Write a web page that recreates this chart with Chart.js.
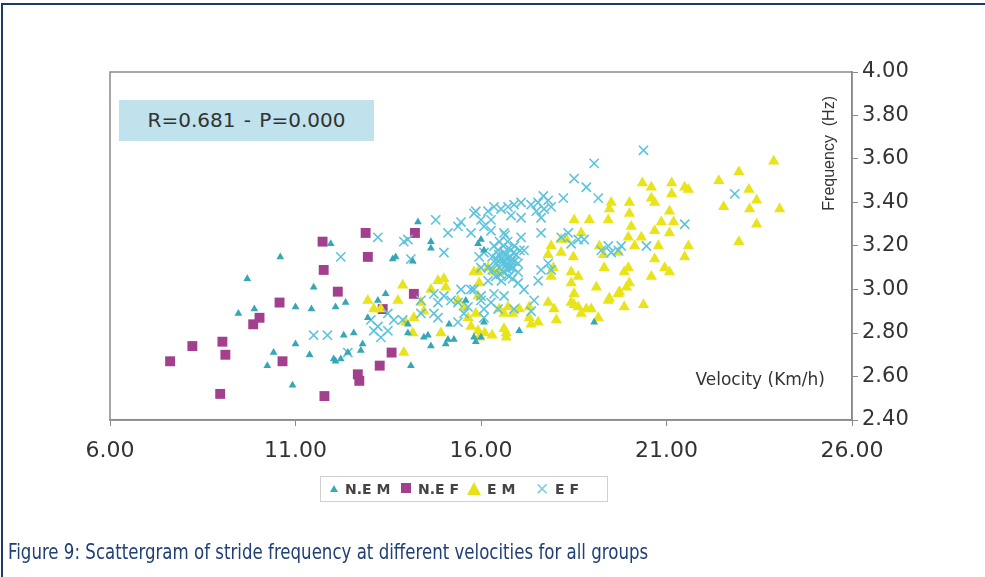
<!DOCTYPE html>
<html lang="en">
<head>
  <meta charset="UTF-8">
  <title>Figure 9: Scattergram of stride frequency</title>
  <script src="https://cdn.jsdelivr.net/npm/chart.js"></script>
  <style>
    html, body { margin: 0; padding: 0; background: #fff; }
    #page { position: relative; width: 985px; height: 577px; overflow: hidden; }
    #frame-top { position: absolute; left: 2px; top: 3px; width: 983px; height: 2px; background: #1c3b6c; }
    #frame-left { position: absolute; left: 1px; top: 3px; width: 2px; height: 574px; background: #1c3b6c; }
    #chart { position: absolute; left: 0; top: 0; }
    #stats {
      position: absolute; left: 119px; top: 100px; width: 255px; height: 41px;
      background: #bfe2ec; color: #333; font: 20px "DejaVu Sans", sans-serif;
      line-height: 41px; text-align: center; word-spacing: 2px;
    }
    #legend {
      position: absolute; left: 320px; top: 476px; width: 286px; height: 24px;
      border: 1px solid #cfcfcf; font: bold 14px "DejaVu Sans", sans-serif; color: #444;
      line-height: 24px; white-space: nowrap;
    }
    #legend span { position: absolute; top: 0; }
    .tri { width: 0; height: 0; border-left: 4px solid transparent; border-right: 4px solid transparent; display: inline-block; }
    #caption {
      position: absolute; left: 8px; top: 539px; color: #1f3f75;
      font: 22px "Liberation Sans Narrow", "DejaVu Sans Condensed", sans-serif;
      white-space: nowrap; transform: scaleX(0.84); transform-origin: left top;
    }
  </style>
</head>
<body>
  <div id="page">
    <canvas id="chart" width="985" height="577"></canvas>
    <div id="frame-top"></div>
    <div id="frame-left"></div>
    <div id="stats">R=0.681 - P=0.000</div>
    <div id="legend">
      <span style="left:9px;top:8px;" class="tri" id="lg1"></span>
      <span style="left:24px;">N.E M</span>
      <span style="left:80px;top:6px;width:10px;height:10px;background:#a3408e;"></span>
      <span style="left:97px;">N.E F</span>
      <span style="left:146px;top:5px;" class="tri" id="lg3"></span>
      <span style="left:166px;">E M</span>
      <span style="left:214px;color:#7fd3e3;font-weight:normal;font-size:17px;">✕</span>
      <span style="left:234px;">E F</span>
    </div>
    <div id="caption">Figure 9: Scattergram of stride frequency at different velocities for all groups</div>
  </div>

  <script>
    // legend triangles
    document.getElementById('lg1').style.borderBottom = '7px solid #3aa9b8';
    const lg3 = document.getElementById('lg3');
    lg3.style.borderLeft = '7px solid transparent';
    lg3.style.borderRight = '7px solid transparent';
    lg3.style.borderBottom = '13px solid #e6e21a';

    // axis ticks
    const xTicks = [6, 11, 16, 21, 26];
    const yTicks = [2.4, 2.6, 2.8, 3.0, 3.2, 3.4, 3.6, 3.8, 4.0];

    // N.E M  (velocity km/h, frequency Hz)
    const nemX = [10.59, 9.70, 11.49, 9.46, 9.89, 11.00, 11.43, 12.08, 12.35, 11.00, 11.38, 10.24, 10.41, 10.92,
                  12.08, 12.22, 12.41, 12.76, 12.81, 14.11, 13.62, 14.16, 14.30, 14.65, 11.95, 15.11, 15.27, 14.65,
                  14.46, 12.30, 12.57, 12.95, 13.22, 14.03, 19.05, 17.03, 16.00, 16.00, 13.43, 13.70, 14.65, 15.05,
                  15.81, 14.57, 14.03, 15.14, 12.03, 15.92, 16.08, 15.59, 16.08, 15.86];
    const nemY = [3.15, 3.05, 3.01, 2.89, 2.91, 2.92, 2.91, 2.92, 2.94, 2.75, 2.70, 2.65, 2.71, 2.56,
                  2.67, 2.68, 2.71, 2.72, 2.75, 2.65, 3.14, 3.13, 3.31, 3.19, 3.21, 2.77, 2.77, 2.74,
                  2.78, 2.79, 2.80, 2.87, 2.95, 2.80, 2.85, 2.81, 2.78, 3.23, 2.98, 3.15, 3.22, 2.75,
                  2.78, 2.79, 2.84, 2.84, 2.68, 3.21, 3.18, 2.95, 2.85, 2.76];

    // N.E F
    const nefX = [7.62, 8.22, 9.03, 9.11, 8.97, 9.86, 10.03, 10.57, 10.65, 11.73, 11.76, 12.14, 12.89, 12.95,
                  11.78, 12.68, 12.72, 13.27, 13.59, 13.35, 14.19, 14.22];
    const nefY = [2.67, 2.74, 2.76, 2.70, 2.52, 2.84, 2.87, 2.94, 2.67, 3.22, 3.09, 2.99, 3.26, 3.15,
                  2.51, 2.61, 2.58, 2.65, 2.71, 2.91, 2.98, 3.26];

    // E M
    const emX = [12.95, 13.11, 13.30, 13.89, 13.76, 13.97, 14.16, 13.92, 14.38, 14.46, 14.65, 14.84, 15.00, 15.05,
                 15.38, 15.54, 15.65, 15.73, 15.92, 14.92, 15.81, 14.19, 15.95, 15.92, 15.86, 16.49, 16.62, 16.73,
                 16.86, 17.03, 16.62, 16.68, 17.30, 17.35, 17.30, 17.97, 18.03, 17.81, 17.89, 17.95, 18.16, 18.30,
                 18.16, 18.49, 18.51, 18.62, 18.43, 18.51, 18.62, 18.84, 18.70, 18.92, 19.19, 19.30, 19.32, 19.43,
                 19.46, 19.51, 19.11, 19.43, 19.70, 19.86, 20.00, 20.00, 20.05, 19.97, 19.86, 20.00, 19.70, 18.97,
                 19.16, 18.70, 17.89, 18.43, 16.19, 16.35, 16.46, 15.92, 17.54, 17.81, 18.51, 23.89, 22.95, 22.41,
                 23.22, 23.43, 23.24, 22.54, 24.05, 23.43, 22.95, 20.59, 20.59, 20.68, 21.14, 21.14, 21.49, 21.59,
                 21.08, 21.19, 21.08, 20.68, 20.86, 21.59, 21.49, 20.78, 20.68, 20.95, 21.08, 20.59, 19.92, 20.38,
                 20.32, 20.14, 19.97, 20.35, 15.95, 16.68, 18.43, 19.46, 19.73, 16.10, 16.30];
    const emY = [2.95, 2.91, 2.91, 3.02, 2.95, 2.85, 2.80, 2.71, 2.94, 2.90, 3.00, 3.04, 3.05, 3.01,
                 2.95, 2.92, 2.87, 2.83, 2.81, 2.80, 3.08, 2.87, 3.03, 2.97, 2.89, 2.91, 2.89, 2.92,
                 2.89, 2.91, 2.82, 2.80, 2.87, 2.84, 2.92, 2.91, 2.86, 3.16, 3.20, 3.10, 3.23, 3.23,
                 3.17, 3.15, 3.32, 3.06, 3.03, 2.98, 2.92, 2.91, 3.26, 3.32, 3.20, 3.16, 3.10, 3.32,
                 3.37, 3.40, 3.01, 2.95, 2.98, 2.92, 3.40, 3.35, 3.29, 3.24, 3.08, 3.03, 3.17, 2.91,
                 2.87, 2.89, 3.06, 3.08, 3.10, 3.08, 3.08, 3.08, 2.85, 2.94, 2.93, 3.59, 3.54, 3.50,
                 3.46, 3.41, 3.37, 3.38, 3.37, 3.30, 3.22, 3.47, 3.42, 3.40, 3.49, 3.44, 3.47, 3.46,
                 3.36, 3.31, 3.26, 3.27, 3.31, 3.20, 3.15, 3.20, 3.14, 3.10, 3.08, 3.06, 3.01, 2.93,
                 3.24, 3.20, 3.10, 3.49, 2.78, 2.78, 2.94, 2.96, 2.99, 2.80, 2.79];

    // E F
    const efX = [13.22, 12.22, 13.92, 14.78, 14.11, 15.11, 15.46, 15.81, 11.49, 11.86, 12.41, 13.03, 13.22, 13.49,
                 13.65, 13.30, 14.73, 15.00, 15.19, 15.46, 15.65, 14.38, 14.73, 14.38, 14.03, 15.00, 15.38, 15.73,
                 16.08, 15.95, 16.19, 14.84, 15.38, 15.73, 15.54, 16.00, 16.08, 13.49, 13.11, 13.89, 15.38, 14.84,
                 19.05, 18.84, 19.16, 18.51, 18.22, 17.81, 17.68, 17.54, 17.35, 17.08, 16.89, 16.73, 16.54, 16.35,
                 16.19, 15.86, 16.00, 16.27, 16.81, 17.08, 17.49, 17.70, 17.62, 17.89, 16.27, 16.62, 17.08, 17.62,
                 17.16, 16.08, 16.00, 16.19, 16.35, 16.62, 17.00, 17.16, 17.54, 17.62, 17.43, 17.35, 16.89, 16.46,
                 16.27, 16.00, 15.81, 16.08, 18.16, 18.35, 18.43, 18.62, 18.78, 19.24, 19.43, 19.51, 19.70, 17.81,
                 17.89, 20.38, 22.84, 21.49, 20.46, 19.78,
                 16.30, 16.40, 16.45, 16.50, 16.55, 16.60, 16.60, 16.65, 16.70, 16.72, 16.75, 16.80, 16.80, 16.85,
                 16.90, 16.90, 16.95, 17.00, 17.00, 16.50, 16.40, 16.30, 16.55, 16.65, 16.85, 17.05, 16.35, 16.70,
                 16.60, 16.78, 16.48, 16.58, 16.68, 16.75, 16.88, 16.42, 16.62, 16.82, 16.52, 16.72];
    const efY = [3.24, 3.15, 3.22, 3.32, 3.14, 3.26, 3.31, 3.35, 2.79, 2.79, 2.71, 2.86, 2.83, 2.89,
                 2.86, 2.78, 2.98, 2.97, 2.95, 3.00, 2.92, 2.89, 2.89, 2.95, 3.23, 3.17, 3.29, 3.26,
                 3.29, 3.15, 3.10, 2.94, 2.94, 3.00, 2.89, 2.95, 2.91, 2.81, 2.81, 2.86, 2.85, 2.87,
                 3.58, 3.47, 3.42, 3.51, 3.42, 3.41, 3.43, 3.40, 3.39, 3.40, 3.39, 3.38, 3.37, 3.38,
                 3.36, 3.36, 3.32, 3.32, 3.34, 3.33, 3.36, 3.37, 3.33, 3.38, 3.27, 3.26, 3.24, 3.26,
                 3.18, 3.17, 3.10, 3.04, 2.98, 2.97, 3.03, 3.00, 3.04, 3.09, 2.95, 2.90, 2.91, 2.91,
                 2.94, 2.97, 3.00, 2.87, 3.24, 3.26, 3.21, 3.23, 3.23, 3.18, 3.20, 3.17, 3.18, 3.12,
                 3.09, 3.64, 3.44, 3.30, 3.20, 3.20,
                 3.15, 3.12, 3.18, 3.10, 3.14, 3.20, 3.08, 3.16, 3.12, 3.22, 3.06, 3.15, 3.18, 3.10,
                 3.13, 3.20, 3.16, 3.08, 3.12, 3.22, 3.06, 3.09, 3.04, 3.25, 3.05, 3.18, 3.20, 3.14,
                 3.12, 3.10, 3.16, 3.13, 3.11, 3.19, 3.17, 3.14, 3.17, 3.13, 3.07, 3.09];

    const pts = (xs, ys) => xs.map((x, i) => ({ x: x, y: ys[i] }));

    // border round the plot area + in-plot axis titles
    const plotFrame = {
      id: 'plotFrame',
      afterDraw(chart) {
        const { ctx, chartArea: a } = chart;
        ctx.save();
        ctx.strokeStyle = '#8a8a8a';
        ctx.lineWidth = 1.5;
        ctx.strokeRect(a.left, a.top, a.right - a.left, a.bottom - a.top);
        ctx.fillStyle = '#333';
        ctx.font = '17px "DejaVu Sans"';
        ctx.textAlign = 'right';
        ctx.textBaseline = 'middle';
        ctx.fillText('Velocity (Km/h)', a.right - 27, a.bottom - 39);
        ctx.translate(a.right - 22, a.top + 24);
        ctx.rotate(-Math.PI / 2);
        ctx.font = '16px "Liberation Sans"';
        ctx.fillText('Frequency  (Hz)', 0, 0);
        ctx.restore();
      }
    };

    new Chart(document.getElementById('chart'), {
      type: 'scatter',
      data: {
        datasets: [
          { label: 'E F', data: pts(efX, efY), pointStyle: 'crossRot', pointRadius: 6.5,
            borderColor: '#5ec3dc', backgroundColor: '#5ec3dc', borderWidth: 1.6, order: 1 },
          { label: 'E M', data: pts(emX, emY), pointStyle: 'triangle', pointRadius: 6.5,
            borderColor: '#e4df1c', backgroundColor: '#e9e31a', borderWidth: 0, order: 2 },
          { label: 'N.E F', data: pts(nefX, nefY), pointStyle: 'rect', pointRadius: 7,
            borderColor: '#a3408e', backgroundColor: '#a3408e', borderWidth: 0, order: 3 },
          { label: 'N.E M', data: pts(nemX, nemY), pointStyle: 'triangle', pointRadius: 4.5,
            borderColor: '#36a7b5', backgroundColor: '#36a7b5', borderWidth: 0, order: 0 }
        ]
      },
      options: {
        responsive: false,
        animation: false,
        layout: { padding: { left: 110, top: 72, right: 58, bottom: 112 } },
        plugins: { legend: { display: false }, tooltip: { enabled: false } },
        scales: {
          x: {
            type: 'linear', min: 6, max: 26,
            afterBuildTicks: s => { s.ticks = xTicks.map(v => ({ value: v })); },
            afterFit: s => { s.height = 45; },
            grid: { drawOnChartArea: false, tickLength: 6, color: '#8a8a8a' },
            border: { color: '#8a8a8a', width: 1.5 },
            ticks: { padding: 12, color: '#333', font: { family: 'DejaVu Sans', size: 22 },
                     maxRotation: 0, callback: v => v.toFixed(2) }
          },
          y: {
            type: 'linear', position: 'right', min: 2.4, max: 4.0,
            afterBuildTicks: s => { s.ticks = yTicks.map(v => ({ value: v })); },
            afterFit: s => { s.width = 75; },
            grid: { drawOnChartArea: false, tickLength: 6, color: '#8a8a8a' },
            border: { color: '#8a8a8a', width: 1.5 },
            ticks: { padding: 4, color: '#333', font: { family: 'DejaVu Sans', size: 21 },
                     callback: v => v.toFixed(2) }
          }
        }
      },
      plugins: [plotFrame]
    });
  </script>
</body>
</html>
